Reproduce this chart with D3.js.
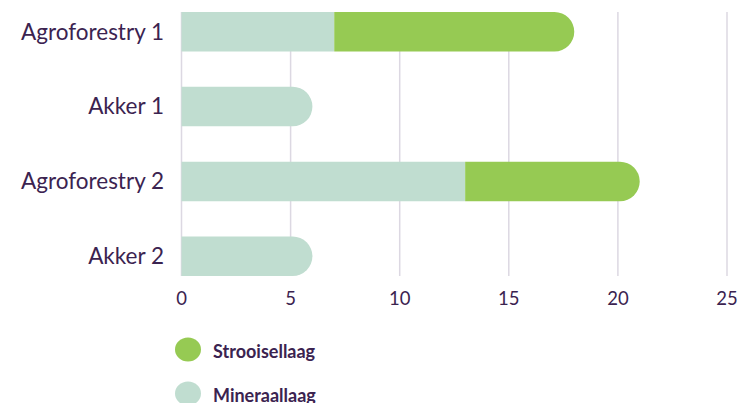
<!DOCTYPE html>
<html>
<head>
<meta charset="utf-8">
<script src="https://cdn.jsdelivr.net/npm/d3@7"></script>
<style>
  body { margin: 0; background: #fff; }
  text { font-family: Lato, "Open Sans", sans-serif; fill: #3b2350; }
</style>
</head>
<body>
<div id="chart"></div>
<script>
const categories = ["Agroforestry 1", "Akker 1", "Agroforestry 2", "Akker 2"];
const mineraallaag = [7, 6, 13, 6];
const strooisellaag = [11, 0, 8, 0];
const seriesNames = ["Strooisellaag", "Mineraallaag"];
const seriesColors = { Strooisellaag: "#96ca53", Mineraallaag: "#c0ddd0" };
const xTicks = [0, 5, 10, 15, 20, 25];

const width = 745, height = 403;
const svg = d3.select("#chart").append("svg")
    .attr("width", width).attr("height", height);

const x = d3.scaleLinear().domain([0, 25]).range([181.5, 727]);
const y = d3.scaleBand().domain(categories).range([12, 276]).paddingInner(0.472).paddingOuter(0);

// gridlines
svg.append("g")
    .selectAll("line")
    .data(xTicks)
    .enter().append("line")
    .attr("x1", d => x(d)).attr("x2", d => x(d))
    .attr("y1", 12).attr("y2", 276)
    .attr("stroke", "#dcd8e2")
    .attr("stroke-width", 1.5);

// tick labels
svg.append("g")
    .selectAll("text")
    .data(xTicks)
    .enter().append("text")
    .attr("x", d => x(d))
    .attr("y", 305)
    .attr("text-anchor", "middle")
    .attr("font-size", 18.5)
    .text(d => d);

// category labels
svg.append("g")
    .selectAll("text")
    .data(categories)
    .enter().append("text")
    .attr("x", 164)
    .attr("y", d => y(d) + y.bandwidth() / 2 + 7.8)
    .attr("text-anchor", "end")
    .attr("font-size", 22.5)
    .text(d => d);

// segments per bar
const rows = categories.map((c, i) => {
    const segs = [
        { key: "Mineraallaag", x0: 0, x1: mineraallaag[i] },
        { key: "Strooisellaag", x0: mineraallaag[i], x1: mineraallaag[i] + strooisellaag[i] }
    ].filter(s => s.x1 > s.x0);
    segs[segs.length - 1].last = true;
    return { cat: c, segs };
});

function segPath(s, cat) {
    const x0 = x(s.x0), x1 = x(s.x1), y0 = y(cat), h = y.bandwidth();
    const r = s.last ? h / 2 : 0;
    const p = d3.path();
    p.moveTo(x0, y0);
    p.lineTo(x1 - r, y0);
    if (r) p.arcTo(x1, y0, x1, y0 + r, r);
    if (r) p.arcTo(x1, y0 + h, x1 - r, y0 + h, r);
    else p.lineTo(x1, y0 + h);
    p.lineTo(x0, y0 + h);
    p.closePath();
    return p.toString();
}

svg.append("g")
    .selectAll("g")
    .data(rows)
    .enter().append("g")
    .each(function (row) {
        d3.select(this).selectAll("path")
            .data(row.segs)
            .enter().append("path")
            .attr("d", s => segPath(s, row.cat))
            .attr("fill", s => seriesColors[s.key]);
    });

// legend
const legend = svg.append("g")
    .selectAll("g")
    .data(seriesNames)
    .enter().append("g")
    .attr("transform", (d, i) => `translate(188, ${349.5 + i * 44})`);

legend.append("ellipse")
    .attr("rx", 13).attr("ry", 12)
    .attr("fill", d => seriesColors[d]);

legend.append("text")
    .attr("x", 25)
    .attr("y", 8)
    .attr("font-size", 18)
    .attr("font-weight", "bold")
    .text(d => d);
</script>
</body>
</html>
